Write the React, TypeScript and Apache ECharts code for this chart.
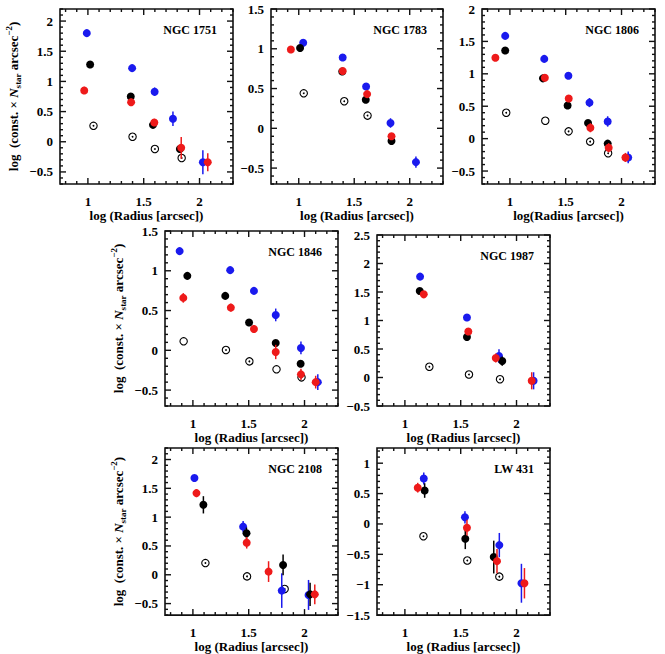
import React, { useEffect, useRef } from "react";
import * as echarts from "echarts";

// Each point: [log R (arcsec), log density, 1-sigma error]
const N1751_BLUE = [[0.99, 1.8, 0.04], [1.396, 1.22, 0.05], [1.598, 0.83, 0.07], [1.762, 0.38, 0.12], [2.03, -0.34, 0.2]];
const N1751_BLACK = [[1.02, 1.28, 0.03], [1.384, 0.75, 0.04], [1.583, 0.28, 0.04], [1.824, -0.12, 0.06]];
const N1751_RED = [[0.967, 0.85, 0.06], [1.387, 0.655, 0.06], [1.595, 0.32, 0.06], [1.836, -0.1, 0.18], [2.074, -0.34, 0.15]];
const N1751_OPEN = [[1.05, 0.264], [1.4, 0.083], [1.6, -0.12], [1.84, -0.27]];

const N1783_BLUE = [[1.04, 1.075, 0.03], [1.396, 0.89, 0.03], [1.607, 0.525, 0.03], [1.827, 0.067, 0.06], [2.056, -0.425, 0.07]];
const N1783_BLACK = [[1.012, 1.01, 0.03], [1.392, 0.715, 0.03], [1.604, 0.36, 0.03], [1.836, -0.16, 0.04]];
const N1783_RED = [[0.929, 0.99, 0.03], [1.396, 0.72, 0.04], [1.616, 0.43, 0.04], [1.836, -0.1, 0.04]];
const N1783_OPEN = [[1.045, 0.44], [1.41, 0.34], [1.62, 0.16]];

const N1806_BLUE = [[0.958, 1.585, 0.04], [1.308, 1.23, 0.04], [1.524, 0.97, 0.04], [1.713, 0.556, 0.07], [1.876, 0.265, 0.08], [2.06, -0.29, 0.09]];
const N1806_BLACK = [[0.958, 1.36, 0.03], [1.296, 0.93, 0.03], [1.517, 0.51, 0.03], [1.7, 0.24, 0.04], [1.876, -0.077, 0.04]];
const N1806_RED = [[0.87, 1.247, 0.04], [1.313, 0.94, 0.04], [1.527, 0.618, 0.05], [1.721, 0.168, 0.07], [1.885, -0.14, 0.07], [2.035, -0.29, 0.07]];
const N1806_OPEN = [[0.967, 0.4], [1.317, 0.276], [1.526, 0.112], [1.719, -0.046], [1.88, -0.225]];

const N1846_BLUE = [[0.881, 1.247, 0.04], [1.334, 1.008, 0.04], [1.547, 0.747, 0.04], [1.742, 0.445, 0.08], [1.968, 0.03, 0.08], [2.119, -0.4, 0.1]];
const N1846_BLACK = [[0.95, 0.936, 0.03], [1.29, 0.684, 0.03], [1.503, 0.349, 0.03], [1.742, 0.092, 0.03], [1.965, -0.168, 0.03]];
const N1846_RED = [[0.914, 0.659, 0.06], [1.34, 0.537, 0.05], [1.547, 0.268, 0.05], [1.742, -0.021, 0.09], [1.968, -0.302, 0.07], [2.1, -0.4, 0.08]];
const N1846_OPEN = [[0.917, 0.113], [1.296, 0.004], [1.506, -0.139], [1.749, -0.239], [1.973, -0.34]];

const N1987_BLUE = [[1.136, 1.77, 0.03], [1.556, 1.053, 0.03], [1.843, 0.376, 0.12], [2.153, -0.058, 0.15]];
const N1987_BLACK = [[1.133, 1.517, 0.03], [1.556, 0.711, 0.03], [1.872, 0.288, 0.08]];
const N1987_RED = [[1.169, 1.459, 0.03], [1.568, 0.806, 0.05], [1.814, 0.341, 0.08], [2.136, -0.058, 0.15]];
const N1987_OPEN = [[1.219, 0.188], [1.574, 0.053], [1.852, -0.03]];

const N2108_BLUE = [[1.014, 1.68, 0.05], [1.45, 0.835, 0.1], [1.796, -0.275, 0.3], [2.036, -0.35, 0.26]];
const N2108_BLACK = [[1.094, 1.214, 0.15], [1.48, 0.72, 0.1], [1.808, 0.17, 0.18], [2.05, -0.34, 0.2]];
const N2108_RED = [[1.032, 1.417, 0.07], [1.482, 0.555, 0.1], [1.678, 0.055, 0.18], [2.092, -0.34, 0.17]];
const N2108_OPEN = [[1.112, 0.203], [1.485, -0.028], [1.822, -0.247]];

const LW431_BLUE = [[1.169, 0.748, 0.1], [1.538, 0.109, 0.1], [1.846, -0.348, 0.2], [2.044, -0.976, 0.32]];
const LW431_BLACK = [[1.177, 0.55, 0.12], [1.541, -0.244, 0.17], [1.796, -0.545, 0.27]];
const LW431_RED = [[1.115, 0.597, 0.08], [1.556, -0.062, 0.13], [1.825, -0.612, 0.2], [2.071, -0.976, 0.25]];
const LW431_OPEN = [[1.166, -0.203], [1.559, -0.602], [1.846, -0.867]];

const CLUSTER_NAMES = ["NGC 1751", "NGC 1783", "NGC 1806", "NGC 1846", "NGC 1987", "NGC 2108", "LW 431"];
const Y_RANGES = [[-0.7, 2.2], [-0.7, 1.5], [-0.7, 2.0], [-0.7, 1.5], [-0.5, 2.5], [-0.7, 2.2], [-1.5, 1.25]];
const X_RANGE = [0.75, 2.3];
const X_MAJOR_TICKS = [1, 1.5, 2];
const X_TITLES = [
  "log (Radius [arcsec])",
  "log (Radius [arcsec])",
  "log(Radius [arcsec])",
  "log (Radius [arcsec])",
  "log (Radius [arcsec])",
  "log (Radius [arcsec])",
  "log (Radius [arcsec])",
];

const PANEL_DATA = [
  { blue: N1751_BLUE, black: N1751_BLACK, red: N1751_RED, open: N1751_OPEN },
  { blue: N1783_BLUE, black: N1783_BLACK, red: N1783_RED, open: N1783_OPEN },
  { blue: N1806_BLUE, black: N1806_BLACK, red: N1806_RED, open: N1806_OPEN },
  { blue: N1846_BLUE, black: N1846_BLACK, red: N1846_RED, open: N1846_OPEN },
  { blue: N1987_BLUE, black: N1987_BLACK, red: N1987_RED, open: N1987_OPEN },
  { blue: N2108_BLUE, black: N2108_BLACK, red: N2108_RED, open: N2108_OPEN },
  { blue: LW431_BLUE, black: LW431_BLACK, red: LW431_RED, open: LW431_OPEN },
];

// Panel frames in pixels
const LAYOUT = [
  { left: 60, top: 9, width: 173, height: 175, yTitle: true },
  { left: 271, top: 9, width: 172, height: 175, yTitle: false },
  { left: 482, top: 9, width: 173, height: 175, yTitle: false },
  { left: 165, top: 231, width: 173, height: 175, yTitle: true },
  { left: 377, top: 235, width: 173, height: 171, yTitle: false },
  { left: 165, top: 448, width: 173, height: 176, yTitle: true },
  { left: 377, top: 448, width: 173, height: 176, yTitle: false },
];

const FONT = "'Liberation Serif', 'Times New Roman', serif";
const FRAME = "#111";
const COLORS = { blue: "#1a1aee", black: "#000000", red: "#ee1a1a" };

const stepValues = (lo: number, hi: number, step: number) => {
  const out: number[] = [];
  const start = Math.ceil(lo / step - 1e-6);
  const end = Math.floor(hi / step + 1e-6);
  for (let k = start; k <= end; k++) out.push(Math.round(k * step * 1000) / 1000);
  return out;
};

const isMajor = (v: number) => Math.abs(v * 2 - Math.round(v * 2)) < 1e-6;

const fmt = (v: number) => (v < 0 ? "\u2212" + String(Math.abs(v)) : String(v));

const Y_TITLE = "{t|log  (const. \u00d7 }{n|N}{s|star}{t| arcsec}{p|\u22122}{t|)}";

export default function App() {
  const ref = useRef<HTMLDivElement>(null);

  useEffect(() => {
    if (!ref.current) return;
    const chart = echarts.init(ref.current, undefined, { renderer: "svg" });

    const grids: any[] = [];
    const xAxes: any[] = [];
    const yAxes: any[] = [];
    const series: any[] = [];
    const titles: any[] = [];

    LAYOUT.forEach((g, gi) => {
      grids.push({
        left: g.left,
        top: g.top,
        width: g.width,
        height: g.height,
        show: true,
        borderColor: FRAME,
        borderWidth: 1.6,
        backgroundColor: "transparent",
      });
      const [ymin, ymax] = Y_RANGES[gi];
      const yMajor = stepValues(ymin, ymax, 0.5);

      xAxes.push({
        gridIndex: gi,
        type: "value",
        position: "bottom",
        min: X_RANGE[0],
        max: X_RANGE[1],
        splitLine: { show: false },
        axisLine: { show: false, onZero: false },
        axisTick: { show: false },
        axisLabel: {
          show: true,
          customValues: X_MAJOR_TICKS,
          margin: 11,
          formatter: fmt,
          color: "#000",
          fontFamily: FONT,
          fontWeight: "bold",
          fontSize: 13,
        },
        name: X_TITLES[gi],
        nameLocation: "middle",
        nameGap: 22,
        nameTextStyle: { color: "#000", fontFamily: FONT, fontWeight: "bold", fontSize: 13 },
      });

      const yAxis: any = {
        gridIndex: gi,
        type: "value",
        position: "left",
        min: ymin,
        max: ymax,
        splitLine: { show: false },
        axisLine: { show: false, onZero: false },
        axisTick: { show: false },
        axisLabel: {
          show: true,
          customValues: yMajor,
          margin: 7,
          formatter: fmt,
          color: "#000",
          fontFamily: FONT,
          fontWeight: "bold",
          fontSize: 13,
        },
      };
      if (g.yTitle) {
        const tok = { fontFamily: FONT, fontWeight: "bold", color: "#000" };
        yAxis.name = Y_TITLE;
        yAxis.nameLocation = "middle";
        yAxis.nameGap = 38;
        yAxis.nameTextStyle = {
          color: "#000",
          fontFamily: FONT,
          rich: {
            t: { ...tok, fontSize: 13, lineHeight: 18, verticalAlign: "middle" },
            n: { ...tok, fontSize: 13, fontStyle: "italic", lineHeight: 18, verticalAlign: "middle" },
            s: { ...tok, fontSize: 9, lineHeight: 9, verticalAlign: "bottom" },
            p: { ...tok, fontSize: 9, lineHeight: 9, verticalAlign: "top" },
          },
        };
      }
      yAxes.push(yAxis);

      const ax = { xAxisIndex: gi, yAxisIndex: gi };
      const data = PANEL_DATA[gi];

      // Background population: open circles with a central dot
      series.push({
        type: "custom",
        ...ax,
        silent: true,
        encode: { x: 0, y: 1 },
        data: data.open,
        renderItem: (_p: any, api: any) => {
          const c = api.coord([api.value(0), api.value(1)]);
          return {
            type: "group",
            children: [
              { type: "circle", shape: { cx: c[0], cy: c[1], r: 3.7 }, style: { fill: "#fff", stroke: "#000", lineWidth: 1.1 } },
              { type: "circle", shape: { cx: c[0], cy: c[1], r: 0.9 }, style: { fill: "#000" } },
            ],
          };
        },
      });

      (["blue", "black", "red"] as const).forEach((key) => {
        const color = COLORS[key];
        series.push({
          type: "custom",
          ...ax,
          silent: true,
          encode: { x: 0, y: 1 },
          data: data[key],
          renderItem: (_p: any, api: any) => {
            const x = api.value(0);
            const y = api.value(1);
            const e = api.value(2);
            const c = api.coord([x, y]);
            const lo = api.coord([x, y - e]);
            const hi = api.coord([x, y + e]);
            return {
              type: "group",
              children: [
                { type: "line", shape: { x1: lo[0], y1: lo[1], x2: hi[0], y2: hi[1] }, style: { stroke: color, lineWidth: 1.5 } },
                { type: "circle", shape: { cx: c[0], cy: c[1], r: 4 }, style: { fill: color } },
              ],
            };
          },
        });
      });

      titles.push({
        type: "text",
        x: g.left + g.width - 16,
        y: g.top + 21,
        silent: true,
        style: {
          text: CLUSTER_NAMES[gi],
          align: "right",
          verticalAlign: "middle",
          fontFamily: FONT,
          fontWeight: "bold",
          fontSize: 12,
          fill: "#000",
        },
      });
    });

    chart.setOption({
      animation: false,
      backgroundColor: "#fff",
      grid: grids,
      xAxis: xAxes,
      yAxis: yAxes,
      series,
    });

    // Inward tick marks on all four sides of every frame, placed through each panel's axes
    const ticks: any[] = [];
    LAYOUT.forEach((_g, gi) => {
      const [ymin, ymax] = Y_RANGES[gi];
      const finder = { xAxisIndex: gi, yAxisIndex: gi };
      const px = (x: number, y: number) => chart.convertToPixel(finder, [x, y]) as number[];
      const seg = (x1: number, y1: number, x2: number, y2: number) =>
        ticks.push({
          type: "line",
          silent: true,
          z: 10,
          shape: { x1, y1, x2, y2 },
          style: { stroke: "#111", lineWidth: 1.4 },
        });
      stepValues(X_RANGE[0], X_RANGE[1], 0.1).forEach((v) => {
        const len = isMajor(v) ? 6 : 3;
        const b = px(v, ymin);
        const t = px(v, ymax);
        seg(b[0], b[1], b[0], b[1] - len);
        seg(t[0], t[1], t[0], t[1] + len);
      });
      stepValues(ymin, ymax, 0.1).forEach((v) => {
        const len = isMajor(v) ? 6 : 3;
        const l = px(X_RANGE[0], v);
        const r = px(X_RANGE[1], v);
        seg(l[0], l[1], l[0] + len, l[1]);
        seg(r[0], r[1], r[0] - len, r[1]);
      });
    });

    chart.setOption({ graphic: [...titles, ...ticks] });

    return () => chart.dispose();
  }, []);

  return <div ref={ref} style={{ position: "fixed", left: 0, top: 0, width: 665, height: 654 }} />;
}
